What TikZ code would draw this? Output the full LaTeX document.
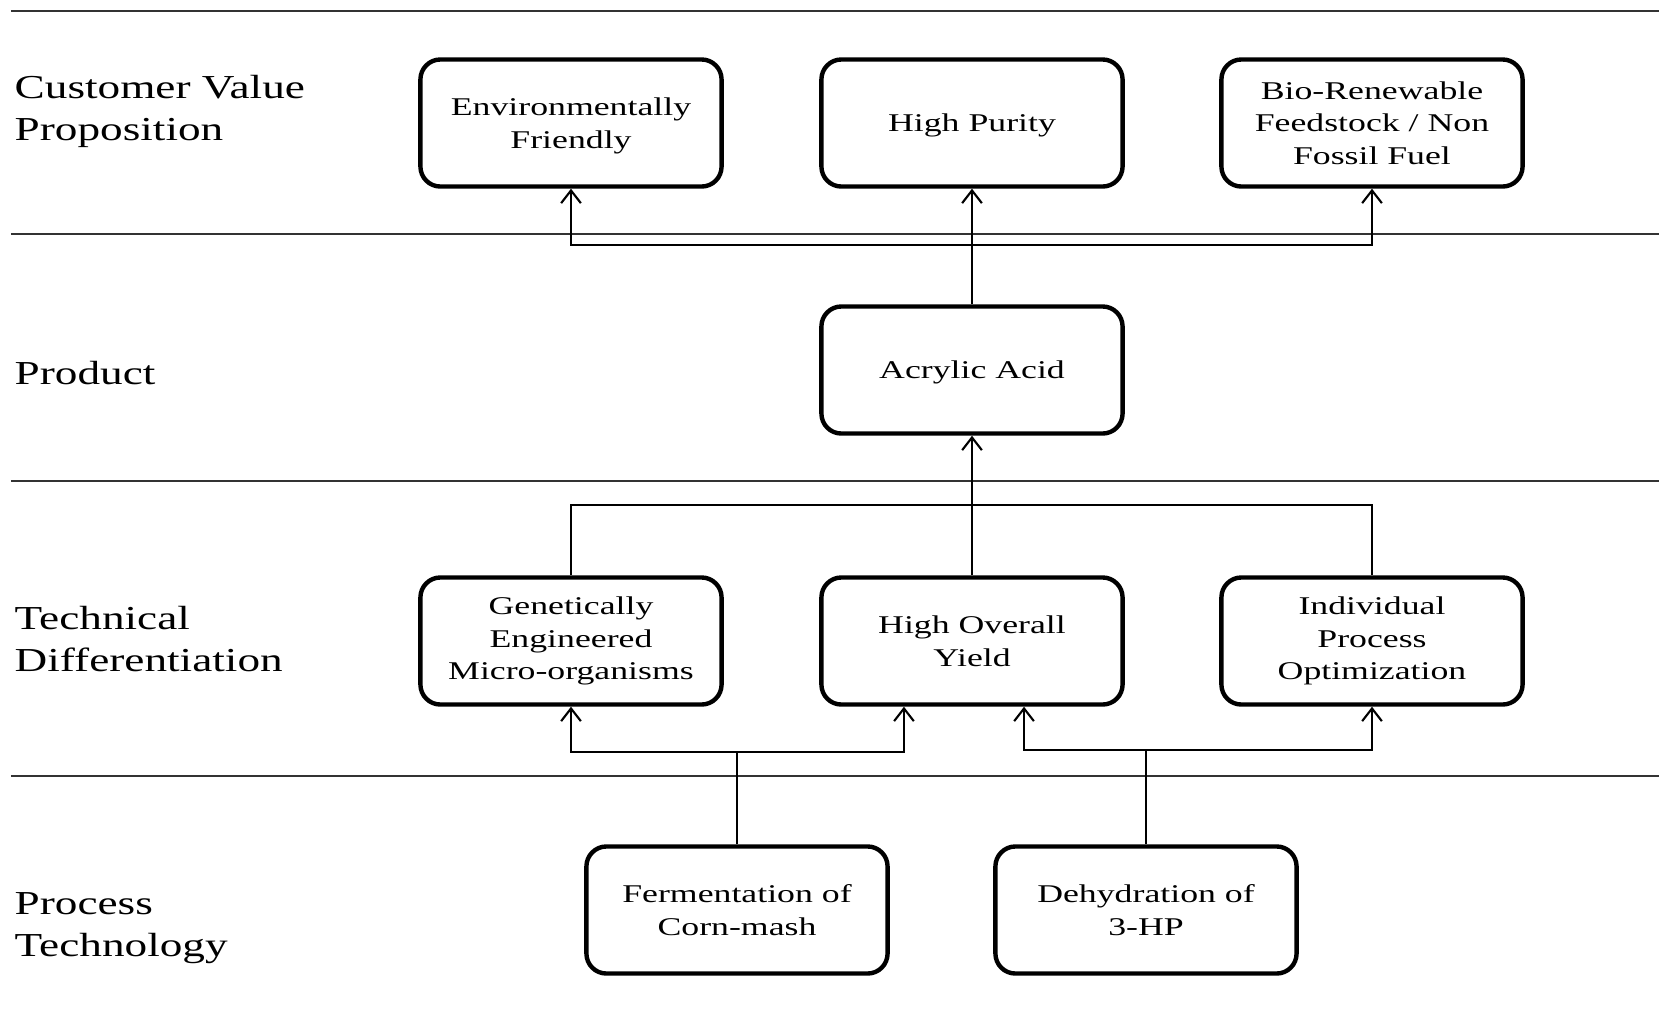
\documentclass[tikz,border=0pt]{standalone}
\usepackage{fontspec}
\setmainfont{Liberation Serif}
\newfontfamily\boxfont[FakeStretch=1.4]{Liberation Serif}
\newfontfamily\lblfont[FakeStretch=1.35]{Liberation Serif}
\usetikzlibrary{arrows.meta}
\newcommand\lowerstrut{\rule{0pt}{6.6pt}}
\tikzset{
  stage/.style={draw=black, line width=1.25pt, rounded corners=0.2cm,
    minimum width=3.01cm, minimum height=1.27cm, inner sep=1pt, align=center,
    font={\boxfont\fontsize{7.26}{9.25}\selectfont}},
  lbl/.style={inner sep=0pt, anchor=base west, font={\lblfont\fontsize{9.53}{11.95}\selectfont}},
  sep/.style={draw=black!80, line width=0.55pt},
  conn/.style={draw=black, line width=0.6pt},
  arr/.style={conn, -{Straight Barb[length=3.6pt,width=5.6pt]}}
}
\begin{document}
\begin{tikzpicture}[x=0.01cm, y=-0.01cm]
\useasboundingbox (0,0) rectangle (1659,1008);
% section lines
\draw[sep] (11,11) -- (1659,11);
\draw[sep] (11,234) -- (1659,234);
\draw[sep] (11,481) -- (1659,481);
\draw[sep] (11,776) -- (1659,776);
% row labels
\node[lbl] (l1) at (14,98) {\vtop{\baselineskip=11.95pt\hbox{Customer Value}\hbox{Proposition}}};
\node[lbl] (l2) at (14,384) {Product};
\node[lbl] (l3) at (14,629) {\vtop{\baselineskip=11.95pt\hbox{Technical}\hbox{Differentiation}}};
\node[lbl] (l4) at (14,914) {\vtop{\baselineskip=11.95pt\hbox{Process}\hbox{Technology}}};
% boxes
\node[stage] (env) at (571,123) {\lowerstrut Environmentally\\Friendly};
\node[stage] (hp)  at (972,123) {\lowerstrut High Purity};
\node[stage] (bio) at (1372,123) {Bio-Renewable\\Feedstock / Non\\Fossil Fuel};
\node[stage] (acr) at (972,370) {\lowerstrut Acrylic Acid};
\node[stage] (gem) at (571,641) {Genetically\\Engineered\\Micro-organisms};
\node[stage] (hoy) at (972,641) {High Overall\\Yield};
\node[stage] (ipo) at (1372,641) {Individual\\Process\\Optimization};
\node[stage] (fer) at (737,910) {Fermentation of\\Corn-mash};
\node[stage] (deh) at (1146,910) {Dehydration of\\3-HP};
% bus coordinates
\coordinate (b1) at (972,245);
\coordinate (b2) at (972,505);
\coordinate (b3) at (737,752);
\coordinate (b4) at (1146,750);
% connectors
\draw[arr] (acr.north) -- (hp.south);
\draw[arr] (b1) -| (env.south);
\draw[arr] (b1) -| (bio.south);
\draw[arr] (hoy.north) -- (acr.south);
\draw[conn] (gem.north) |- (b2) -| (ipo.north);
\draw[conn] (fer.north) -- (b3);
\draw[arr] (b3) -| (gem.south);
\draw[arr] (b3) -| ([xshift=-0.68cm]hoy.south);
\draw[conn] (deh.north) -- (b4);
\draw[arr] (b4) -| ([xshift=0.52cm]hoy.south);
\draw[arr] (b4) -| (ipo.south);
\end{tikzpicture}
\end{document}
